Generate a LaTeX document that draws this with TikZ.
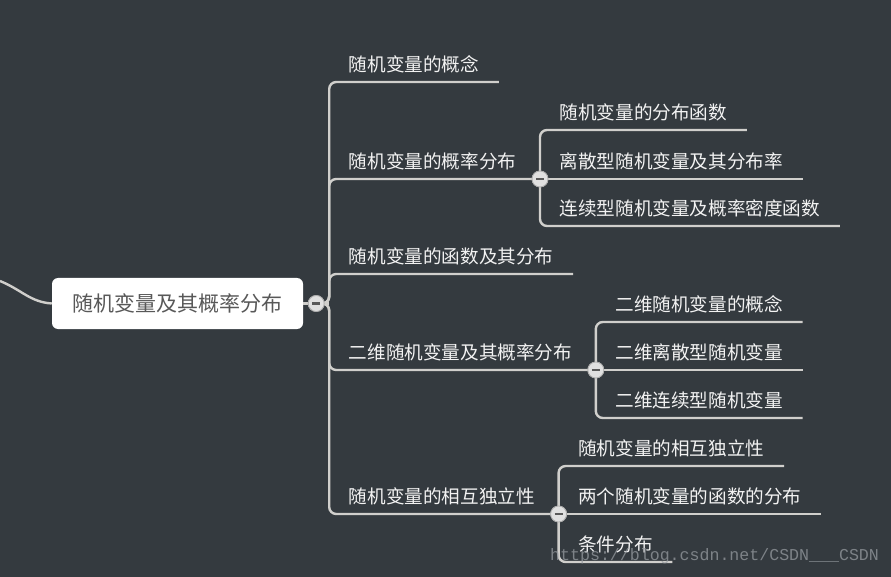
\documentclass[tikz,border=0pt]{standalone}
\usepackage{fontspec}
\newfontfamily\cjk{Noto Sans CJK SC}
\setmonofont{Liberation Mono}
\usetikzlibrary{positioning}
\definecolor{bgdark}{RGB}{52,58,63}
\definecolor{linegray}{RGB}{208,207,204}
\definecolor{rootgray}{RGB}{88,88,88}
\definecolor{marktext}{RGB}{150,155,160}
\tikzset{
  topic/.style={font=\cjk\fontsize{18.6}{20}\selectfont, text=white!95!black, anchor=south west,
    inner xsep=19.5pt, inner ysep=10pt, text height=14pt, text depth=0pt},
  branch/.style={draw=linegray, line width=2.4pt, rounded corners=7pt},
  fold/.style={circle, minimum size=16pt, inner sep=0pt, fill=white!88!black, draw=gray!65, line width=0.8pt,
    path picture={\draw[line width=2.2pt, black!65] ([xshift=-4pt]path picture bounding box.center)
      -- ([xshift=4pt]path picture bounding box.center);}},
  root/.style={font=\cjk\fontsize{21}{24}\selectfont, text=rootgray, fill=white, rounded corners=6pt,
    minimum width=251pt, minimum height=51pt, inner sep=0pt},
}
\begin{document}
\begin{tikzpicture}[x=1pt, y=-1pt]
    % Canvas
    \useasboundingbox[fill=bgdark] (0,0) rectangle (891,577);
    % Central topic
    \node[root] (root) at (177.5,303.5) {随机变量及其概率分布};
    \node[fold] (c0) at ([xshift=13pt]root.east) {};
    \coordinate (hub) at ([xshift=13pt]c0.center);
    \coordinate (inlet) at (0,281);
    % First level
    \node[topic] (t1) at (hub |- 0,82) {随机变量的概念};
    \node[topic] (t2) at (hub |- 0,179) {随机变量的概率分布};
    \node[topic] (t3) at (hub |- 0,274) {随机变量的函数及其分布};
    \node[topic] (t4) at (hub |- 0,370) {二维随机变量及其概率分布};
    \node[topic] (t5) at (hub |- 0,514) {随机变量的相互独立性};
    \node[fold] (c2) at ([xshift=4pt]t2.south east) {};
    \node[fold] (c4) at ([xshift=4pt]t4.south east) {};
    \node[fold] (c5) at ([xshift=4pt]t5.south east) {};
    % Second level
    \node[topic] (t21) at (c2.center |- 0,130) {随机变量的分布函数};
    \node[topic] (t22) at (c2.center) {离散型随机变量及其分布率};
    \node[topic] (t23) at (c2.center |- 0,226) {连续型随机变量及概率密度函数};
    \node[topic] (t41) at (c4.center |- 0,322) {二维随机变量的概念};
    \node[topic] (t42) at (c4.center) {二维离散型随机变量};
    \node[topic] (t43) at (c4.center |- 0,418) {二维连续型随机变量};
    \node[topic] (t51) at (c5.center |- 0,466) {随机变量的相互独立性};
    \node[topic] (t52) at (c5.center) {两个随机变量的函数的分布};
    \node[topic] (t53) at (c5.center |- 0,562) {条件分布};
    % Connectors
    \draw[linegray, line width=2.4pt] (inlet) .. controls (22,290) and (30,302) .. (root.west);
    \draw[branch] (root.east) -- (hub);
    \foreach \t in {t1,t2,t3,t4,t5}
        \draw[branch] (c0.center) -- (hub) |- (\t.south east);
    \foreach \c/\a/\b/\m in {c2/t21/t23/t22, c4/t41/t43/t42, c5/t51/t53/t52} {
        \draw[branch] (\c.center) |- (\a.south east);
        \draw[branch] (\c.center) |- (\b.south east);
        \draw[branch] (\c.center) -- (\m.south east);
    }
    % Fold buttons on top
    \foreach \c in {c0,c2,c4,c5}
        \node[fold] at (\c.center) {};
    % Watermark
    \node[font=\ttfamily\fontsize{16.6}{18}\selectfont, text=marktext, text opacity=0.75, anchor=west, inner sep=0pt]
        (mark) at (550,556) {https://blog.csdn.net/CSDN\_\_\_CSDN};
\end{tikzpicture}
\end{document}
